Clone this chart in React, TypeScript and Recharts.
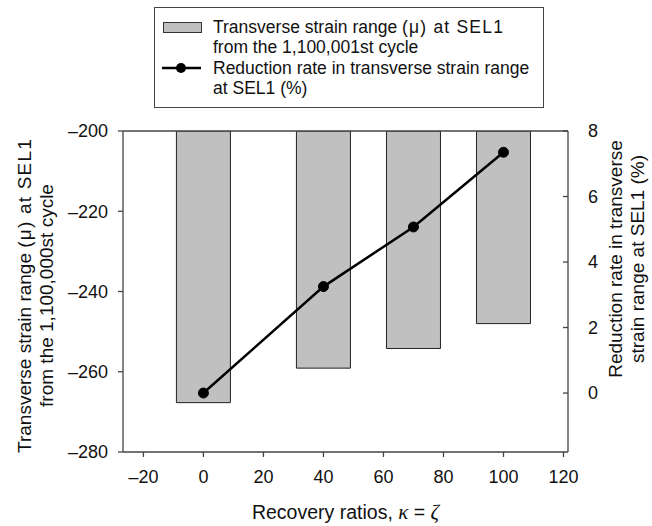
import { ComposedChart, Bar, Line, XAxis, YAxis, ReferenceLine } from 'recharts';

const ratios = [0, 40, 70, 100];
const strainRange = [-267.7, -259.1, -254.2, -248.0];
const reductionRate = [0, 3.25, 5.07, 7.35];

const xTicks = [-20, 0, 20, 40, 60, 80, 100, 120];
const leftTicks = [-280, -260, -240, -220, -200];
const rightTicks = [0, 2, 4, 6, 8];

const barLegend = ['Transverse strain range (\u03bc) at SEL1', 'from the 1,100,001st cycle'];
const lineLegend = ['Reduction rate in transverse strain range', 'at SEL1 (%)'];
const leftTitle = ['Transverse strain range (\u03bc) at SEL1', 'from the 1,100,000st cycle'];
const rightTitle = ['Reduction rate in transverse', 'strain range at SEL1 (%)'];

const data = ratios.map((r, i) => ({
  ratio: r,
  strain: [-200, strainRange[i]],
  reduction: reductionRate[i],
}));

const FONT = '"Liberation Sans", Arial, sans-serif';
const FS = 17.5;
const TICK_FS = 18;
const TITLE_FS = 19;
const AXIS = '#444';

const dash = (v: number) => String(v).replace('-', '\u2013');

// the "(μ) at SEL1" run is set a little wider in the original
const MU_RUN = '(\u03bc) at SEL1';

const svgText = (t: string) => {
  const parts = t.split(MU_RUN);
  if (parts.length === 1) return t;
  return (
    <>
      {parts[0]}
      <tspan letterSpacing={1.2}>{MU_RUN}</tspan>
      {parts[1]}
    </>
  );
};

const htmlText = (t: string) => {
  const parts = t.split(MU_RUN);
  if (parts.length === 1) return t;
  return (
    <>
      {parts[0]}
      <span style={{ letterSpacing: 1.2 }}>{MU_RUN}</span>
      {parts[1]}
    </>
  );
};

const RightTick = ({ x, y, payload }: any) => (
  <g>
    <line x1={x - 20} x2={x - 25} y1={y} y2={y} stroke={AXIS} strokeWidth={1.3} />
    <text x={x} y={y} dominantBaseline="central" textAnchor="start" fontSize={TICK_FS} fontFamily={FONT} fill="#111">
      {payload.value}
    </text>
  </g>
);

const LeftTitle = ({ viewBox }: any) => {
  const cy = viewBox.y + viewBox.height / 2 + 4;
  return (
    <g fontSize={TITLE_FS} fontFamily={FONT} fill="#111">
      {leftTitle.map((t, i) => (
        <text key={i} x={24 + i * 22} y={cy} transform={`rotate(-90, ${24 + i * 22}, ${cy})`}
          textAnchor="middle" dominantBaseline="central">{svgText(t)}</text>
      ))}
    </g>
  );
};

const RightTitle = ({ viewBox }: any) => {
  const cx = viewBox.x + 47;
  const cy = 259;
  return (
    <g fontSize={TITLE_FS} fontFamily={FONT} fill="#111">
      {rightTitle.map((t, i) => (
        <text key={i} x={cx + i * 22} y={cy} transform={`rotate(-90, ${cx + i * 22}, ${cy})`}
          textAnchor="middle" dominantBaseline="central">{t}</text>
      ))}
    </g>
  );
};

const XTitle = ({ viewBox }: any) => (
  <text x={viewBox.x + viewBox.width / 2} y={viewBox.y + 67} textAnchor="middle"
    fontSize={TITLE_FS + 0.5} fontFamily={FONT} fill="#111">
    Recovery ratios, <tspan fontStyle="italic" fontFamily='"Liberation Serif", serif' fontSize={21}>{'\u03ba'}</tspan>
    {' = '}
    <tspan fontStyle="italic" fontFamily='"Liberation Serif", serif' fontSize={21}>{'\u03b6'}</tspan>
  </text>
);

function LegendBox() {
  const line = { position: 'absolute' as const, left: 58, whiteSpace: 'nowrap' as const, lineHeight: '20px' };
  return (
    <div style={{ position: 'absolute', left: 154, top: 7, width: 388, height: 99, border: `1.5px solid ${AXIS}`,
      fontFamily: FONT, fontSize: FS, color: '#111', background: '#fff' }}>
      <div style={{ position: 'absolute', left: 8, top: 14, width: 37, height: 9, background: '#c0c0c0', border: '1px solid #333' }} />
      <div style={{ ...line, top: 9 }}>{htmlText(barLegend[0])}<br />{barLegend[1]}</div>
      <svg style={{ position: 'absolute', left: 6, top: 50 }} width={42} height={20}>
        <line x1={1} x2={40} y1={10} y2={10} stroke="#000" strokeWidth={2.5} />
        <circle cx={20} cy={10} r={5} fill="#000" />
      </svg>
      <div style={{ ...line, top: 50 }}>{lineLegend[0]}<br />{lineLegend[1]}</div>
    </div>
  );
}

export default function App() {
  return (
    <div style={{ position: 'absolute', left: 0, top: 0, width: 652, height: 526, background: '#fff' }}>
      <ComposedChart width={652} height={526} data={data} margin={{ top: 131, right: 0, bottom: 0, left: 0 }}>
        <XAxis
          type="number"
          dataKey="ratio"
          domain={[-26.8, 121.5]}
          ticks={xTicks}
          allowDataOverflow
          height={74}
          tickSize={5}
          tickMargin={13}
          tickFormatter={dash}
          tick={{ fontSize: TICK_FS, fontFamily: FONT, fill: '#111' }}
          axisLine={{ stroke: AXIS, strokeWidth: 1.3 }}
          tickLine={{ stroke: AXIS, strokeWidth: 1.3 }}
          label={{ content: XTitle }}
        />
        <YAxis
          yAxisId="left"
          orientation="left"
          width={123}
          domain={[-280, -200]}
          ticks={leftTicks}
          allowDataOverflow
          tickSize={5}
          tickMargin={10}
          tickFormatter={dash}
          tick={{ fontSize: TICK_FS, fontFamily: FONT, fill: '#111' }}
          axisLine={{ stroke: AXIS, strokeWidth: 1.3 }}
          tickLine={{ stroke: AXIS, strokeWidth: 1.3 }}
          label={{ content: LeftTitle }}
        />
        <YAxis
          yAxisId="right"
          orientation="right"
          width={84}
          domain={[-1.8, 8]}
          ticks={rightTicks}
          allowDataOverflow
          tickSize={5}
          tickMargin={15}
          tickLine={false}
          tick={RightTick}
          axisLine={{ stroke: AXIS, strokeWidth: 1.3 }}
          label={{ content: RightTitle }}
        />
        <ReferenceLine yAxisId="left" y={-200} stroke={AXIS} strokeWidth={1.3} />
        <Bar yAxisId="left" dataKey="strain" barSize={54} fill="#c0c0c0" stroke="#222" strokeWidth={1}
          isAnimationActive={false} />
        <Line yAxisId="right" dataKey="reduction" stroke="#000" strokeWidth={2.5}
          dot={{ r: 5, fill: '#000', stroke: '#000', strokeWidth: 1 }} isAnimationActive={false} />
      </ComposedChart>
      <LegendBox />
    </div>
  );
}
